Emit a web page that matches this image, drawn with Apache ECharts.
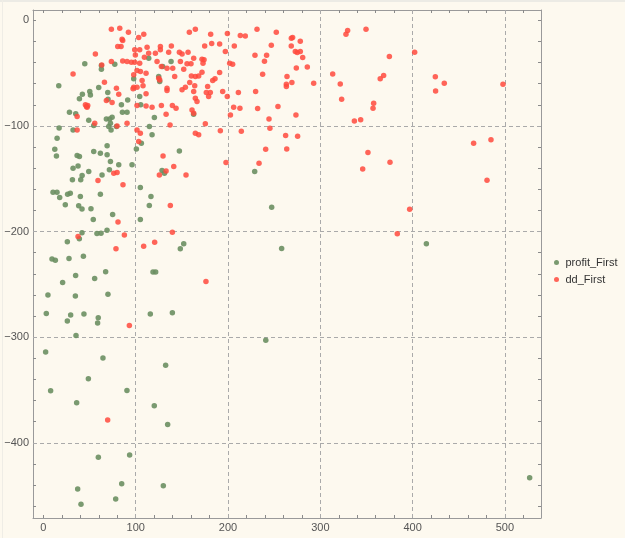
<!DOCTYPE html>
<html>
<head>
<meta charset="utf-8">
<script src="https://cdn.jsdelivr.net/npm/echarts@6/dist/echarts.min.js"></script>
<style>
  html, body { margin: 0; padding: 0; background: #fdf9ef; }
  #chart { width: 625px; height: 538px; position: relative; }
  #topband { position: absolute; left: 0; top: 0; width: 625px; height: 2px; background: #ecebe5; z-index: 5; }
  #leftband { position: absolute; left: 2px; top: 0; width: 1px; height: 538px; background: #efede6; z-index: 5; }
</style>
</head>
<body>
<div id="topband"></div>
<div id="leftband"></div>
<div id="chart"></div>
<script>
// 刻度
var xLabels = [0, 100, 200, 300, 400, 500];
var yLabels = [0, -100, -200, -300, -400];
var xTicks = [0, 20, 40, 60, 80, 100, 120, 140, 160, 180, 200, 220, 240, 260, 280, 300, 320, 340, 360, 380, 400, 420, 440, 460, 480, 500, 520];
var yTicks = [0, -20, -40, -60, -80, -100, -120, -140, -160, -180, -200, -220, -240, -260, -280, -300, -320, -340, -360, -380, -400, -420, -440, -460];
var xGrid = [100, 200, 300, 400, 500];
var yGrid = [-100, -200, -300, -400];

// profit_First
var profitFirst = [
    [44.8,-41.3],[62.8,-42.9],[62.8,-46.4],[77.3,-41.6],[16.6,-62.1],[42.2,-70],[39,-74.4],[50.2,-67.5],[50.9,-70.7],[59.9,-63.7],
    [69.7,-68.5],[70,-74.8],[84.5,-80.1],[91.3,-75.4],[85.6,-87.1],[90.6,-87.1],[104.3,-72.2],[105.4,-80.1],[97.8,-55.5],[114.1,-36],
    [129.2,-43.8],[138.3,-39.1],[124.9,-53.3],[126,-58],[28.2,-87.1],[35,-88.6],[32.1,-103.8],[49.1,-94.6],[54.5,-99.7],[68.2,-93.4],
    [71.8,-93.4],[72.6,-97.5],[74.4,-91.8],[70.8,-100.6],[73.3,-103.8],[79.1,-100.6],[114.8,-100.6],[120.2,-92.1],[117.7,-108.5],[147.3,-123.7],
    [100.7,-121.8],[106.1,-116.4],[17,-101.9],[14.8,-111.7],[12.3,-122.1],[14.1,-128.4],[36.5,-128.1],[39,-129],[54.5,-124.3],[61.7,-125.9],
    [69,-127.4],[69,-118.9],[72.6,-133.8],[81.6,-136.9],[96,-136.9],[32.1,-140.1],[37.5,-137.9],[49.1,-143.2],[63.5,-146.4],[71.5,-141.6],
    [41.9,-147],[128.5,-142.3],[131.1,-144.8],[162.7,-88.9],[228.9,-143.2],[247.3,-177],[258.1,-216.1],[414.9,-211.6],[240.9,-303],
    [31.4,-151.1],[40.4,-151.1],[105,-158.3],[116.5,-166.8],[114.7,-175.4],[105,-188.6],[152,-211.6],[148.3,-216.4],[118.7,-238.4],[121.6,-238.4],
    [115.8,-278.2],[139.7,-276.9],[10.4,-162.8],[14.7,-162.8],[17.6,-167.8],[26.2,-164.7],[29.1,-163.7],[40,-166.9],[61.7,-164.7],[23.7,-174.7],
    [38.2,-175.7],[41.8,-178.8],[51.5,-178.5],[75,-183.9],[54,-188.6],[68.9,-198.7],[58,-201.9],[62.4,-201.6],[41.8,-201.2],[38.9,-206.9],
    [25.9,-209.8],[9.3,-226.1],[12.9,-227.1],[27.7,-225.5],[43.3,-223.3],[34.9,-241.6],[55.5,-244.5],[67.4,-238.1],[20.8,-248.2],[4.9,-260.2],
    [34.6,-261.1],[69.9,-259.3],[3.1,-277.6],[29.5,-279.1],[43.9,-278.2],[25.9,-284.8],[59.4,-281.6],[58.7,-286.7],[35.3,-298.4],
    [2.4,-314.1],[64.5,-319.8],[48.7,-339.4],[7.8,-350.7],[90.5,-350.4],[132.4,-326.7],[36,-362.1],[120.1,-364.9],[134.6,-382.6],[59.5,-413.8],
    [93.4,-411.6],[129.9,-440.6],[84.8,-438.7],[37.1,-443.8],[78.3,-453.2],[40.7,-458.2],[526.8,-433]
];

// dd_First
var ddFirst = [
    [73.6,-8.5],[82.7,-7.6],[92.1,-11.4],[103.2,-16.4],[108.7,-13.2],[85.2,-18],[85.9,-19.2],[80.5,-24.9],[84.1,-24.9],[56.3,-31.9],
    [112.3,-25.6],[114,-31.2],[121.3,-31.2],[126.7,-24.9],[126.7,-28],[138.6,-24.3],[135.7,-30.3],[147.3,-30.3],[150.2,-31.9],[156.7,-30.3],
    [164.6,-8.5],[158.1,-11.4],[162.8,-36],[98.9,-28],[104.3,-28],[99.6,-32.8],[109.4,-35],[63.2,-42.3],[73.6,-39.1],[85.9,-38.5],
    [90.6,-39.1],[95.3,-39.7],[98.9,-39.7],[104.3,-40.7],[101.4,-47.6],[97.8,-51.7],[105.1,-48.6],[111.2,-50.2],[123.1,-39.1],[127.8,-43.8],
    [133.9,-45.4],[140.1,-45.4],[152,-46.4],[148.4,-39.1],[155.6,-41.3],[159.9,-41.3],[32.1,-50.8],[66.1,-58.7],[79.1,-64.4],[81.6,-70],
    [97.8,-63.4],[97.1,-64.9],[101.4,-63.4],[106.9,-57.1],[107.9,-62.1],[111.2,-69.7],[124.9,-54.9],[126,-56.5],[133.9,-64.4],[133.9,-66.6],
    [142.2,-53.3],[150.2,-65.9],[153.8,-63.4],[158.5,-59],[160.3,-52.7],[164.6,-53.3],[168.2,-52.7],[162.8,-67.5],[163.9,-62.1],[45.5,-80.1],
    [46.6,-81.7],[48,-80.8],[47.3,-82.3],[68.2,-76],[74.4,-77.9],[36.5,-91.2],[55.6,-97.5],[79.8,-100],[90.6,-97.5],[101.4,-80.8],
    [111.2,-81.1],[117.7,-82.3],[127.8,-80.8],[132.9,-89],[139.7,-80.8],[143.7,-83.3],[161,-84.9],[162.8,-88],[164.6,-73.8],[166.4,-77],
    [36.5,-103.8],[101.4,-103.8],[105,-106.9],[103.2,-114.8],[137.2,-99.1],[164.6,-106.9],[168.2,-108.5],[129.6,-128.4],[141.2,-138.5],[154.5,-146.4],
    [76.2,-144.8],[79.8,-144.2],[125.6,-146.4],[132.9,-142.6],
    [181.2,-13.2],[199.3,-12.6],[213.3,-14.5],[218.7,-14.8],[231.4,-8.5],[252.3,-11.4],[268.6,-17],[270,-16.4],[278.3,-19.9],[174.7,-24.3],
    [182.3,-22.1],[190.9,-22.4],[197.1,-29.7],[206.8,-24.3],[246.9,-23.7],[268.5,-24.3],[229.2,-33.1],[241.8,-33.1],[239.5,-38.8],[272.9,-29.7],
    [275,-30.6],[278.3,-29.7],[280.9,-35.3],[274,-45.1],[285.9,-44.2],[171.8,-36.9],[174,-37.5],[172.9,-40.7],[201.8,-40.7],[205,-41.6],
    [190.9,-49.5],[185.9,-55.5],[183.4,-57.1],[171.8,-49.2],[237.5,-51.1],[263.9,-53.3],[269.2,-59],[263.2,-60.6],[263.2,-62.8],[292.8,-59.6],
    [177.9,-62.8],[176.5,-68.5],[180.8,-68.5],[179,-72.2],[194.2,-67.5],[199.2,-72.2],[211.2,-68.5],[229.9,-67.5],[206.1,-82.3],[212.9,-83.3],
    [232.1,-83.6],[254.1,-81.7],[202.6,-89.6],[273.6,-89.6],[244.4,-93.4],[175.4,-98.1],[245.4,-102.2],[191.7,-104.7],[214.4,-105],[262.4,-109.1],
    [275.4,-109.8],[240.8,-122.1],[263.6,-121.8],[197.8,-134.7],[233.6,-135.3],
    [327.8,-13.2],[329.6,-9.8],[349.5,-8.5],[313.4,-50.8],[321.6,-60.3],[323.1,-74.8],[357.8,-78.5],[357.1,-83.3],[336.9,-95.3],[343.7,-94.3],
    [351.6,-125.2],[345.9,-140.7],
    [374.8,-34.4],[364.9,-55.5],[368.6,-52.4],[402.2,-30.3],[424.6,-53.6],[434.3,-59.6],[424.9,-66.9],[497.9,-60.6],[466.1,-116.4],[484.9,-113.2],
    [375.5,-134.4],[480.6,-151.4],[396.8,-178.9],[383.4,-202.2],[176.1,-247.3],
    [59.1,-151.7],[86.2,-155.8],[137.5,-175.4],[80.8,-191.1],[139.7,-200.6],[37.5,-204.7],[87.7,-203.4],[78.6,-216.4],[108.6,-213.9],[120.5,-210.1],
    [93.1,-288.9],[69.6,-378.5]
];

var xMin = -11.3, xMax = 539.1, yMin = -471.2, yMax = 9.7;
var fontFamily = '"Liberation Sans", Arial, sans-serif';
var frameColor = '#9a9a9a';

function frameAxis(position, ticks, labels, isX) {
    return {
        type: 'value',
        position: position,
        min: isX ? xMin : yMin,
        max: isX ? xMax : yMax,
        axisLine: {show: true, onZero: false, lineStyle: {color: frameColor, width: 1}},
        axisTick: {show: true, inside: true, length: 3, customValues: ticks, lineStyle: {color: '#8a8a8a'}},
        axisLabel: labels ? {
            show: true,
            customValues: labels,
            margin: 4,
            color: '#555',
            fontSize: 11,
            fontFamily: fontFamily,
            formatter: function(v) { return v < 0 ? '\u2212' + (-v) : String(v); }
        } : {show: false},
        splitLine: {show: false}
    };
}

var chart = echarts.init(document.getElementById('chart'));

var gridLines = [];
xGrid.forEach(function(v) { gridLines.push({xAxis: v}); });
yGrid.forEach(function(v) { gridLines.push({yAxis: v}); });

chart.setOption({
    backgroundColor: '#fdf9ef',
    animation: false,
    grid: {left: 33, top: 10, width: 508, height: 508},
    xAxis: [
        frameAxis('bottom', xTicks, xLabels, true),
        frameAxis('top', xTicks, null, true)
    ],
    yAxis: [
        frameAxis('left', yTicks, yLabels, false),
        frameAxis('right', yTicks, null, false)
    ],
    legend: {
        orient: 'vertical',
        left: 549,
        top: 252,
        icon: 'circle',
        itemWidth: 8,
        itemHeight: 5,
        itemGap: 6,
        textStyle: {color: '#333', fontSize: 11, fontFamily: fontFamily},
        data: ['profit_First', 'dd_First']
    },
    series: [
        {
            name: 'profit_First',
            type: 'scatter',
            xAxisIndex: 0,
            yAxisIndex: 0,
            symbolSize: 5.5,
            itemStyle: {color: '#6b8f62', opacity: 0.9},
            data: profitFirst,
            markLine: {
                silent: true,
                z: 1,
                symbol: ['none', 'none'],
                label: {show: false},
                lineStyle: {color: '#aaaaaa', type: [4, 3], width: 1},
                data: gridLines
            }
        },
        {
            name: 'dd_First',
            type: 'scatter',
            xAxisIndex: 0,
            yAxisIndex: 0,
            symbolSize: 5.5,
            itemStyle: {color: '#ff4a3d', opacity: 0.85},
            data: ddFirst
        }
    ]
});
</script>
</body>
</html>
